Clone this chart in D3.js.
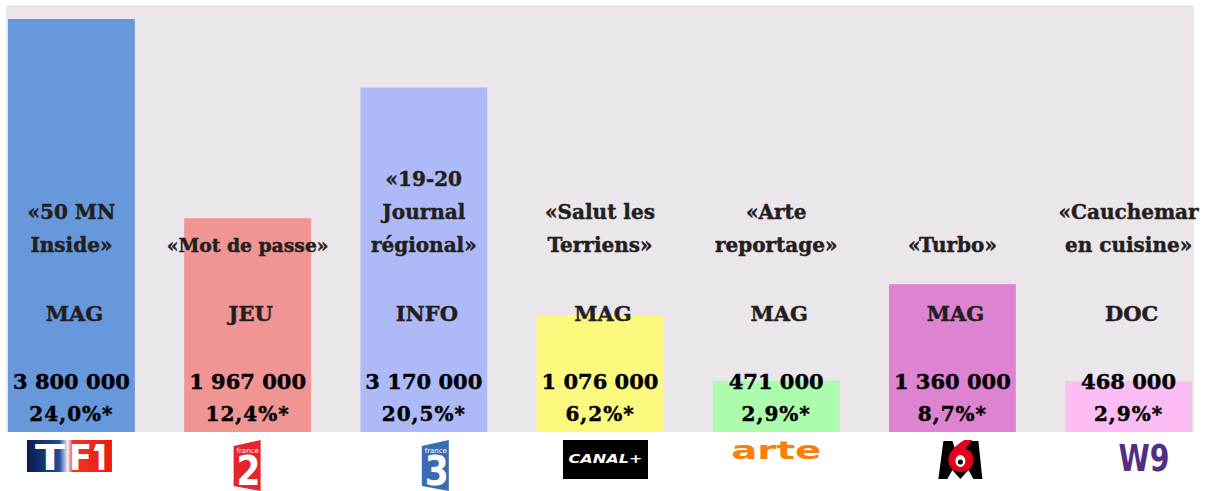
<!DOCTYPE html>
<html>
<head>
<meta charset="utf-8">
<script src="https://cdn.jsdelivr.net/npm/d3@7"></script>
<style>
  body { margin: 0; background: #fff; }
</style>
</head>
<body>
<script>
// ----------------------------------- DATA --------------------------------------------
var channels = ['TF1', 'France 2', 'France 3', 'Canal+', 'Arte', 'M6', 'W9']
var programmes = [['«50 MN', 'Inside»'], ['«Mot de passe»'], ['«19-20', 'Journal', 'régional»'],
    ['«Salut les', 'Terriens»'], ['«Arte', 'reportage»'], ['«Turbo»'], ['«Cauchemar', 'en cuisine»']]
var genres = ['MAG', 'JEU', 'INFO', 'MAG', 'MAG', 'MAG', 'DOC']
var viewers = [3800000, 1967000, 3170000, 1076000, 471000, 1360000, 468000]
var shares = [24.0, 12.4, 20.5, 6.2, 2.9, 8.7, 2.9]
var barColors = ['#6798dc', '#f09494', '#aebaf7', '#fbfa7e', '#adfbad', '#de83d1', '#fcbdf5']

var rows = channels.map(function(c, i){
  return {channel: c, prog: programmes[i], genre: genres[i], viewers: viewers[i], share: shares[i], color: barColors[i]}
})

// ----------------------------------- SVG and BACKGROUND --------------------------------------------
var width = 1211
var height = 491

var svg = d3.select('body')
      .append('svg')
      .attr('width', width)
      .attr('height', height)

var fr = d3.formatLocale({decimal: ',', thousands: ' ', grouping: [3], currency: ['', ' €']})
var fmtViewers = fr.format(',')
var fmtShare = fr.format('.1f')

var x = d3.scaleBand().domain(channels).range([8, 1192]).paddingInner(0.28).paddingOuter(0)
var y = d3.scaleLinear().domain([0, 3800000]).range([432, 19])

svg.append('rect')
  .attr('x', 6).attr('y', 5)
  .attr('width', 1188).attr('height', y(0) - 5)
  .attr('fill', '#ebe6ea')

// ----------------------------------- BARS --------------------------------------------
svg.selectAll('rect.bar')
  .data(rows)
  .enter()
  .append('rect')
  .attr('class', 'bar')
  .attr('x', d => x(d.channel))
  .attr('y', d => y(d.viewers))
  .attr('width', x.bandwidth())
  .attr('height', d => y(0) - y(d.viewers))
  .attr('fill', d => d.color)

// ----------------------------------- LABELS --------------------------------------------
var cx = d => x(d.channel) + x.bandwidth() / 2
var serif = "'DejaVu Serif', serif"

var labels = svg.selectAll('g.label')
  .data(rows)
  .enter()
  .append('g')
  .attr('class', 'label')
  .attr('transform', d => 'translate(' + cx(d) + ',0)')
  .attr('text-anchor', 'middle')
  .attr('font-family', serif)
  .attr('font-weight', 'bold')
  .attr('stroke-width', 0.45)

labels.each(function(d){
  var g = d3.select(this)
  var n = d.prog.length
  d.prog.forEach(function(line, i){
    var t = g.append('text')
      .attr('y', 252 - (n - 1 - i) * 33)
      .attr('font-size', 20)
      .attr('fill', '#231f20')
      .attr('stroke', '#231f20')
      .text(line)
    // long single titles are set smaller in the original
    var w = t.node().getComputedTextLength()
    if (n == 1 && w > 150) t.attr('font-size', 20 * 162 / w)
  })
})

labels.append('text')
  .attr('x', 3)
  .attr('y', 321)
  .attr('font-size', 21)
  .attr('fill', '#231f20')
  .attr('stroke', '#231f20')
  .text(d => d.genre)

labels.append('text')
  .attr('y', 389)
  .attr('font-size', 21)
  .attr('fill', '#000')
  .attr('stroke', '#000')
  .text(d => fmtViewers(d.viewers))

labels.append('text')
  .attr('y', 421)
  .attr('font-size', 20)
  .attr('letter-spacing', 1)
  .attr('fill', '#000')
  .attr('stroke', '#000')
  .text(d => fmtShare(d.share) + '%*')

// ----------------------------------- LOGOS --------------------------------------------
var defs = svg.append('defs')
var tf1Grad = defs.append('linearGradient').attr('id', 'tf1')
tf1Grad.append('stop').attr('offset', '0%').attr('stop-color', '#0a1a4a')
tf1Grad.append('stop').attr('offset', '38%').attr('stop-color', '#1f4c9c')
tf1Grad.append('stop').attr('offset', '48%').attr('stop-color', '#eef1f8')
tf1Grad.append('stop').attr('offset', '54%').attr('stop-color', '#f2322a')
tf1Grad.append('stop').attr('offset', '100%').attr('stop-color', '#ee1a10')

var sans = "'DejaVu Sans', sans-serif"

function logoTF1(g){
  g.attr('transform', 'translate(-2,0)')
  g.append('rect').attr('x', -42.5).attr('y', 0).attr('width', 85).attr('height', 32).attr('fill', 'url(#tf1)')
  // letter, left edge, width
  var letters = [['T', -34.5, 30], ['F', -0.5, 23], ['I', 26.5, 11]]
  letters.forEach(function(l){
    g.append('text').attr('x', l[1]).attr('y', 30)
      .attr('font-family', sans).attr('font-weight', 'bold').attr('font-size', 36)
      .attr('textLength', l[2]).attr('lengthAdjust', 'spacingAndGlyphs')
      .attr('fill', '#fff').text(l[0])
  })
  // flag of the "1"
  g.append('polygon').attr('points', '26.5,4 31,4 31,11 24,11').attr('fill', '#fff')
}

function logoFrance(g, num, color, dx){
  g.attr('transform', 'translate(' + dx + ',0)')
  g.append('polygon').attr('points', '-15,6 12,0 12,51 -15,46').attr('fill', color)
  g.append('text').attr('x', -1).attr('y', 13).attr('text-anchor', 'middle')
    .attr('font-family', sans).attr('font-size', 7).attr('fill', '#fff').text('france')
  g.append('text').attr('x', -12).attr('y', 45)
    .attr('font-family', sans).attr('font-weight', 'bold').attr('font-size', 41)
    .attr('textLength', 24).attr('lengthAdjust', 'spacingAndGlyphs')
    .attr('fill', '#fff').text(num)
}

function logoCanal(g){
  g.attr('transform', 'translate(5.5,0)')
  g.append('rect').attr('x', -42.5).attr('y', 0).attr('width', 85).attr('height', 39).attr('fill', '#000')
  g.append('text').attr('x', 0).attr('y', 23).attr('text-anchor', 'middle')
    .attr('font-family', sans).attr('font-weight', 'bold').attr('font-style', 'italic')
    .attr('font-size', 13).attr('textLength', 74).attr('lengthAdjust', 'spacingAndGlyphs')
    .attr('fill', '#fff').text('CANAL+')
}

function logoArte(g){
  g.append('text').attr('x', -45).attr('y', 19)
    .attr('font-family', sans).attr('font-weight', 'bold').attr('font-size', 24)
    .attr('textLength', 90).attr('lengthAdjust', 'spacingAndGlyphs')
    .attr('fill', '#f7800a').text('arte')
}

function logoM6(g){
  g.attr('transform', 'translate(8,0)')
  g.append('polygon')
    .attr('points', '-17,1 -8,1 0,24 8,1 18,1 22,39 13,39 8,30 0,39 -8,30 -13,39 -22,39')
    .attr('fill', '#000')
  g.append('path').attr('d', 'M4,0 L12,0 L5,9 C11,10 13,15 13,20 C13,28 7,32 0,32 C-7,32 -12,27 -12,20 C-12,13 -6,6 4,0 Z')
    .attr('fill', '#e2001a')
  g.append('ellipse').attr('cx', 0).attr('cy', 21).attr('rx', 5).attr('ry', 6).attr('fill', '#fff')
  g.append('circle').attr('cx', 0).attr('cy', 22).attr('r', 2.5).attr('fill', '#000')
}

function logoW9(g){
  g.attr('transform', 'translate(14,0)')
  g.append('text').attr('x', -24).attr('y', 31)
    .attr('font-family', sans).attr('font-weight', 'bold').attr('font-size', 38)
    .attr('textLength', 51).attr('lengthAdjust', 'spacingAndGlyphs')
    .attr('fill', '#4f3082').text('W9')
}

var logoDrawers = [logoTF1,
  g => logoFrance(g, '2', '#e4252d', 1),
  g => logoFrance(g, '3', '#3a6cb4', 13),
  logoCanal, logoArte, logoM6, logoW9]

svg.selectAll('g.logo')
  .data(rows)
  .enter()
  .append('g')
  .attr('class', 'logo')
  .attr('transform', d => 'translate(' + cx(d) + ',440)')
  .each(function(d, i){ logoDrawers[i](d3.select(this).append('g')) })
</script>
</body>
</html>
